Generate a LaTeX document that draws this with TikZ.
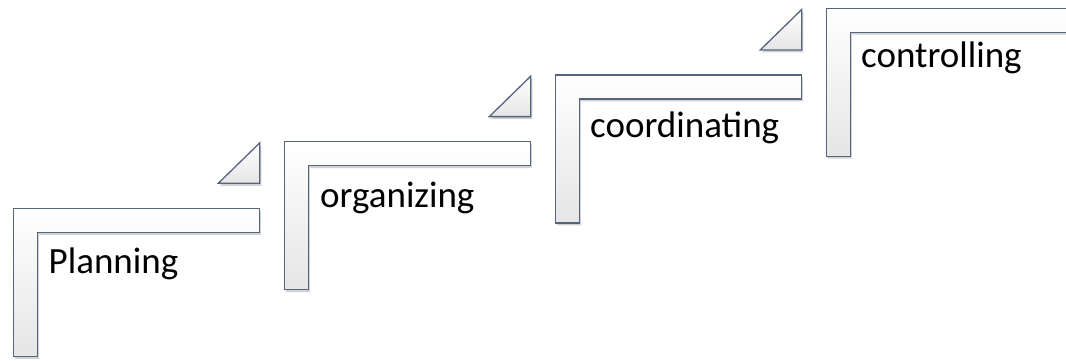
\documentclass[tikz,border=0pt]{standalone}
\usepackage{fontspec}
\setmainfont{Carlito}
\usetikzlibrary{shadows}

\definecolor{stepedge}{HTML}{56657C}
\tikzset{
  stepshape/.style={draw=stepedge, line width=1.3pt, line join=miter, top color=white, bottom color=gray!20,
    drop shadow={opacity=0.35, shadow xshift=1.5pt, shadow yshift=-2.5pt}},
  steplabel/.style={anchor=base west, inner sep=0pt, font=\fontsize{37}{40}\selectfont}
}

\begin{document}
\begin{tikzpicture}[x=1pt, y=-1pt]
  \clip (0,0) rectangle (1066,360);
  \fill[white] (0,0) rectangle (1066,360);

  % the four stairs
  \foreach \i in {0,...,3}
  {
  \pgfmathsetmacro{\xo}{13.3+271*\i}
  \pgfmathsetmacro{\yo}{208.3-66.7*\i}
  \draw[stepshape] (\xo,\yo) -- ++(246,0) -- ++(0,24) -- ++(-222,0) -- ++(0,124) -- ++(-24,0) -- cycle;
  }

  % small wedges over the stairs
  \foreach \i in {0,...,2}
  {
  \pgfmathsetmacro{\xo}{13.3+271*\i}
  \pgfmathsetmacro{\yo}{208.3-66.7*\i}
  \draw[stepshape] (\xo+205,\yo-25) -- (\xo+246.5,\yo-25) -- (\xo+246.5,\yo-65.5) -- cycle;
  }

  \node[steplabel] (plan) at (48.5, 273.3) {Planning};
  \node[steplabel] (organize) at (320, 207.5) {organizing};
  \node[steplabel] (coordinate) at (590, 137.5) {coordinating};
  \node[steplabel] (control) at (861, 67) {controlling};

\end{tikzpicture}
\end{document}
